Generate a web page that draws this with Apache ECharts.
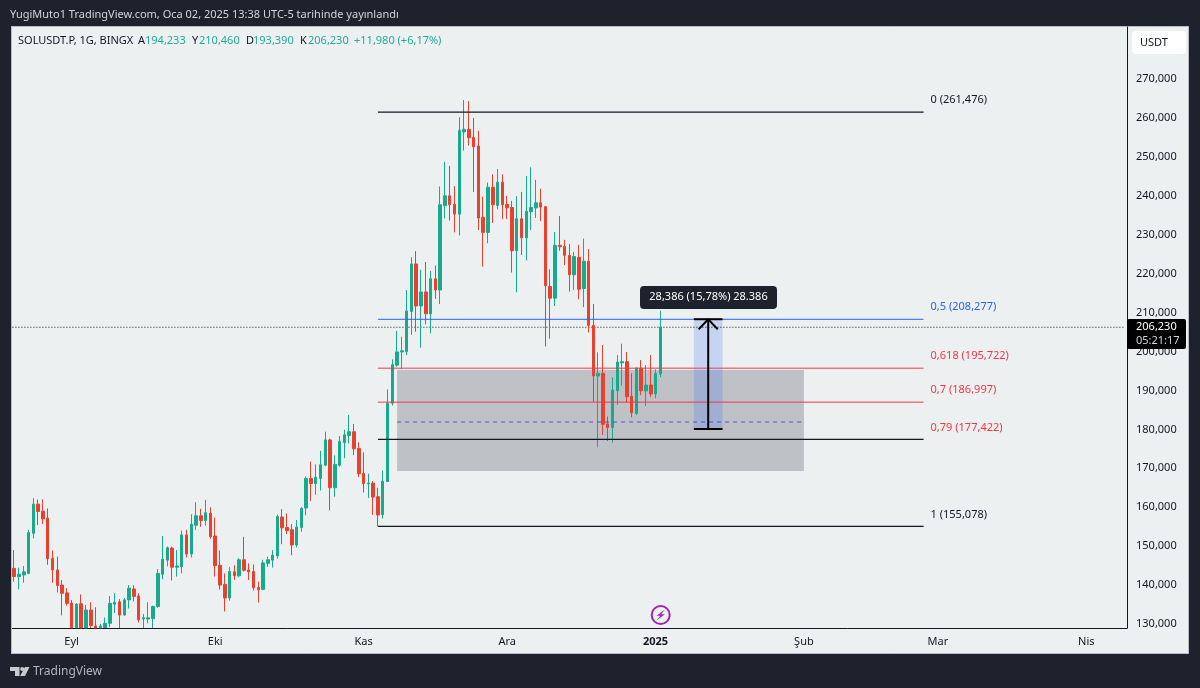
<!DOCTYPE html>
<html>
<head>
<meta charset="utf-8">
<style>
  html, body { margin: 0; padding: 0; background: #1e222d; }
  #container { width: 1200px; height: 688px; }
</style>
</head>
<body>
<div id="container"></div>
<script src="https://cdn.jsdelivr.net/npm/echarts@6/dist/echarts.min.js"></script>
<script>
// prices in thousands, one entry per day starting 2024-08-19
// anything running off the bottom of the pane is held at 129
const opens = [
  142.2, 144.3, 142.2, 142.6, 143.0, 153.3, 160.8, 159.0, 157.2, 146.9, 143.9, 140.0, 138.0,
  135.4, 129.0, 135.2, 129.0, 133.6, 129.5, 129.0, 129.1, 130.2, 135.1, 135.7, 132.3, 136.2, 139.0,
  137.2, 131.3, 131.3, 131.4, 134.5, 142.8, 146.4, 149.5, 144.6, 144.7, 152.9, 148.0, 155.4,
  157.8, 156.6, 158.5, 152.6, 145.1, 140.2, 136.7, 143.4, 142.4, 146.5, 143.9, 143.5, 139.4,
  138.9, 145.6, 146.4, 147.5, 157.5, 154.8, 154.2, 150.3, 154.8, 159.8, 167.4, 166.1, 167.4,
  170.8, 177.3, 165.0, 170.8, 176.6, 178.4, 179.4, 175.1, 168.7, 166.0, 166.2, 162.7, 158.1,
  166.6, 186.7, 196.5, 199.9, 200.0, 210.3, 222.5, 211.7, 215.3, 209.7, 218.7, 215.8, 237.5,
  240.0, 237.8, 235.3, 256.4, 257.1, 255.0, 252.8, 234.5, 230.6, 242.2, 237.5, 243.5, 237.8,
  237.0, 225.9, 234.1, 229.2, 235.9, 236.9, 238.2, 237.2, 216.7, 213.7, 227.3, 227.0, 224.7,
  219.7, 224.2, 216.2, 223.2, 206.7, 193.7, 194.4, 181.4, 180.5, 189.9, 197.1, 197.4, 188.5,
  184.1, 195.7, 189.9, 191.4, 189.1, 194.233
];
const closes = [
  144.3, 142.2, 142.8, 143.4, 153.5, 160.8, 158.9, 157.0, 146.8, 143.9, 139.9, 137.9, 135.3,
  129.0, 135.1, 129.0, 133.6, 129.6, 129.0, 129.5, 130.2, 135.3, 135.6, 132.3, 136.2, 139.2, 137.1,
  131.1, 131.6, 131.6, 134.5, 143.0, 146.6, 149.6, 144.6, 144.9, 152.9, 148.0, 155.6, 157.8,
  156.6, 158.6, 152.4, 145.0, 140.0, 136.7, 143.5, 142.4, 146.5, 143.8, 143.4, 139.3, 138.8,
  145.7, 146.5, 147.7, 157.6, 154.7, 154.0, 150.3, 154.9, 159.7, 167.4, 166.1, 167.7, 170.9,
  177.3, 165.0, 171.0, 176.9, 178.6, 179.4, 175.0, 168.6, 166.1, 166.2, 162.6, 158.0, 166.7,
  186.7, 196.6, 199.9, 200.2, 210.4, 222.5, 211.7, 215.3, 209.7, 218.7, 215.8, 237.7, 240.0,
  237.7, 235.3, 256.8, 257.1, 254.9, 252.6, 234.3, 230.6, 242.2, 237.7, 243.5, 237.7, 236.9,
  225.9, 234.1, 229.2, 236.0, 237.0, 238.2, 237.1, 216.9, 213.7, 227.3, 226.9, 224.7, 219.7,
  224.4, 216.0, 223.2, 206.7, 193.7, 194.4, 181.3, 180.5, 190.1, 197.3, 197.4, 188.4, 184.3,
  195.7, 189.9, 191.4, 189.1, 194.4, 206.230
];
const lows = [
  140.5, 140.9, 138.9, 140.6, 142.8, 152.0, 155.4, 155.7, 145.2, 140.6, 138.1, 132.2, 134.7,
  129.0, 129.0, 129.0, 129.0, 129.0, 129.0, 129.0, 129.0, 129.2, 132.8, 129.0, 132.2, 134.0, 135.8,
  130.4, 129.0, 130.2, 129.0, 134.2, 141.5, 144.8, 141.2, 142.2, 143.0, 147.1, 147.1, 154.2,
  155.0, 155.3, 151.9, 142.2, 138.8, 133.2, 136.0, 141.3, 142.0, 143.5, 141.3, 138.6, 135.5,
  138.7, 144.7, 144.5, 146.8, 150.5, 153.1, 147.7, 149.7, 153.7, 157.9, 161.6, 163.2, 164.3,
  170.6, 159.2, 162.7, 170.4, 172.6, 176.4, 173.4, 167.7, 163.8, 162.4, 158.0, 155.078, 157.1,
  166.5, 186.1, 196.1, 195.5, 199.1, 204.3, 205.1, 201.0, 207.0, 204.7, 213.5, 212.2, 234.2,
  233.6, 230.6, 229.8, 251.6, 252.9, 241.0, 231.2, 221.8, 227.8, 233.0, 236.5, 234.0, 234.0,
  220.3, 215.2, 224.8, 223.4, 231.2, 234.3, 233.5, 201.3, 203.3, 211.7, 225.9, 222.2, 215.4,
  215.8, 213.4, 211.4, 204.9, 187.1, 175.4, 178.6, 177.0, 176.6, 186.3, 191.2, 186.9, 183.1,
  183.7, 188.8, 186.0, 188.3, 188.0, 193.390
];
const highs = [
  146.3, 149.0, 144.5, 144.9, 154.2, 162.3, 162.0, 162.0, 159.7, 148.9, 147.3, 141.3, 139.2,
  136.2, 135.4, 137.6, 134.9, 135.6, 134.3, 130.0, 131.7, 137.2, 137.9, 136.4, 136.7, 140.0, 140.0,
  137.9, 132.6, 135.6, 134.7, 144.1, 152.6, 149.9, 149.9, 149.0, 154.0, 154.2, 158.2, 161.3,
  159.6, 161.9, 160.0, 157.4, 148.9, 143.0, 144.6, 145.1, 146.9, 152.4, 145.6, 145.3, 140.9,
  146.5, 147.3, 149.0, 158.1, 159.5, 158.4, 155.7, 156.7, 160.0, 167.9, 171.7, 171.0, 174.5,
  179.4, 177.6, 173.3, 178.3, 179.9, 183.7, 181.4, 176.7, 174.1, 168.6, 166.7, 165.0, 169.4,
  190.3, 198.0, 205.3, 203.8, 215.8, 224.2, 225.8, 221.0, 223.0, 220.7, 222.1, 242.4, 248.7,
  247.7, 242.5, 260.2, 264.6, 264.3, 260.0, 256.7, 239.8, 243.4, 245.5, 246.9, 245.5, 240.0,
  238.7, 239.9, 241.0, 245.1, 247.3, 244.1, 241.8, 237.4, 221.1, 230.7, 234.8, 228.7, 227.6,
  225.6, 227.4, 229.0, 226.3, 212.2, 199.8, 201.7, 183.3, 193.4, 199.1, 202.0, 199.9, 194.4,
  195.9, 197.8, 196.5, 199.1, 195.4, 210.460
];

const monthIndexes = [13, 43, 74, 104, 135, 166, 194, 225];
const monthLabels = ['Eyl', 'Eki', 'Kas', 'Ara', '2025', 'Şub', 'Mar', 'Nis'];
const priceTicks = [130, 140, 150, 160, 170, 180, 190, 200, 210, 220, 230, 240, 250, 260, 270];

// fib levels, drawn from fibStart to fibEnd
const fibValues = [261.476, 208.277, 195.722, 186.997, 177.422, 155.078];
const fibNames = ['0', '0,5', '0,618', '0,7', '0,79', '1'];
const fibLineColors = ['#131722', '#2962ff', '#f23645', '#f23645', '#131722', '#131722'];
const fibTextColors = ['#131722', '#2962ff', '#f23645', '#f23645', '#f23645', '#131722'];
const fibStart = 77;
const fibEnd = 191;

const lastPrice = 206.23;
const zoneRange = [169.3, 195.25];
const zoneMid = 181.9;
const zoneIdx = [81, 166];
const measureRange = [180.1, 208.3];
const measureIdx = [143, 146, 149];
const arrowWing = 205.7;

const dayCount = 234;
const categories = [];
for (let d = 0; d < dayCount; d++) {
  categories.push(new Date(Date.UTC(2024, 7, 19 + d)).toISOString().slice(0, 10));
}

const candles = opens.map((o, i) => [o, closes[i], lows[i], highs[i]]);
const money = (v) => v.toFixed(3).replace('.', ',');

const font = '"Noto Sans", sans-serif';
const fontSize = 11;
const textColor = '#131722';
const green = '#15ab8c';
const red = '#e8412f';

function plainLine(data, color, width, type, z) {
  return {
    type: 'line',
    data: data,
    symbol: 'none',
    silent: true,
    animation: false,
    z: z,
    lineStyle: { color: color, width: width, type: type || 'solid' }
  };
}

const series = [
  {
    type: 'candlestick',
    data: candles,
    barWidth: 3,
    z: 3,
    itemStyle: { color: green, color0: red, borderColor: green, borderColor0: red, borderWidth: 1 },
    markArea: {
      silent: true,
      z: 1,
      data: [
        [
          { xAxis: zoneIdx[0], yAxis: zoneRange[1], itemStyle: { color: 'rgba(120,123,134,0.4)' } },
          { xAxis: zoneIdx[1], yAxis: zoneRange[0] }
        ],
        [
          { xAxis: measureIdx[0], yAxis: measureRange[1], itemStyle: { color: 'rgba(41,98,255,0.2)' } },
          { xAxis: measureIdx[2], yAxis: measureRange[0] }
        ]
      ]
    }
  },
  plainLine([[0, lastPrice], [dayCount - 1, lastPrice]], '#131722', 1.2, [1, 2], 2),
  plainLine([[zoneIdx[0], zoneMid], [zoneIdx[1], zoneMid]], '#5b4fd6', 1, [4, 4], 4)
];

fibValues.forEach((v, i) => {
  const s = plainLine([[fibStart, v], [fibEnd, v]], fibLineColors[i], fibLineColors[i] === '#131722' ? 1.2 : 1, 'solid', 4);
  s.endLabel = {
    show: true,
    formatter: fibNames[i] + ' (' + money(v) + ')',
    color: fibTextColors[i],
    fontFamily: font,
    fontSize: fontSize,
    distance: 7,
    offset: [0, -12]
  };
  series.push(s);
});

// measure tool: shaft, caps and arrow head
series.push(plainLine([[measureIdx[1], measureRange[0]], [measureIdx[1], measureRange[1]]], '#000', 2, 'solid', 5));
series.push(plainLine([[measureIdx[0], measureRange[0]], [measureIdx[2], measureRange[0]]], '#000', 2, 'solid', 5));
series.push(plainLine([[measureIdx[0], measureRange[1]], [measureIdx[2], measureRange[1]]], '#000', 2, 'solid', 5));
series.push(plainLine([
  [measureIdx[1] - 2, arrowWing], [measureIdx[1], measureRange[1]], [measureIdx[1] + 2, arrowWing]
], '#000', 2, 'solid', 5));

const headerBits = [
  ['SOLUSDT.P, 1G, BINGX', 18, textColor], ['A', 138, textColor], ['194,233', 145, '#22ab94'],
  ['Y', 192, textColor], ['210,460', 199, '#22ab94'], ['D', 246, textColor], ['193,390', 253, '#22ab94'],
  ['K', 300, textColor], ['206,230', 308, '#22ab94'], ['+11,980 (+6,17%)', 354, '#22ab94']
];

function label(text, x, y, color, size, extra) {
  return {
    type: 'text', x: x, y: y, z: 110, silent: true,
    style: Object.assign({ text: text, fill: color, fontFamily: font, fontSize: size || fontSize, verticalAlign: 'middle' }, extra || {})
  };
}

const graphics = [
  { type: 'rect', z: -1, silent: true, shape: { x: 11.5, y: 26.5, width: 1177, height: 627 },
    style: { fill: '#edf0f0', stroke: '#b8bcc4', lineWidth: 1 } },
  { type: 'rect', z: 100, silent: true, shape: { x: 0, y: 26, width: 11, height: 630 }, style: { fill: '#1e222d' } },
  { type: 'line', z: 100, silent: true, shape: { x1: 11.5, y1: 26, x2: 11.5, y2: 654 }, style: { stroke: '#b8bcc4', lineWidth: 1 } },
  label('YugiMuto1 TradingView.com, Oca 02, 2025 13:38 UTC-5 tarihinde yayınlandı', 10, 15, '#d1d4dc', 11),
  { type: 'rect', z: 110, silent: true, shape: { x: 1132, y: 31, width: 54, height: 23, r: 4 }, style: { fill: '#fff' } },
  label('USDT', 1140, 42.5, textColor),
  { type: 'rect', z: 110, silent: true, shape: { x: 1127, y: 319, width: 59, height: 30, r: 2 }, style: { fill: '#000' } },
  label('206,230', 1136, 327, '#fff'),
  label('05:21:17', 1136, 341, '#d1d4dc'),
  { type: 'rect', z: 110, silent: true, shape: { x: 640, y: 286, width: 137, height: 23, r: 4 }, style: { fill: '#1e222d' } },
  label('28,386 (15,78%) 28.386', 708.5, 297, '#fff', 11, { align: 'center' }),
  { type: 'circle', z: 110, silent: true, shape: { cx: 660.7, cy: 615, r: 9 }, style: { fill: 'none', stroke: '#9c27b0', lineWidth: 2 } },
  { type: 'polygon', z: 110, silent: true,
    shape: { points: [[665, 609.5], [656.5, 615.8], [660.3, 615.8], [656.4, 620.5], [665, 614.2], [661.2, 614.2]] },
    style: { fill: '#9c27b0' } },
  { type: 'polygon', z: 110, silent: true, shape: { points: [[10, 667], [19.5, 667], [19.5, 676], [15, 676], [15, 671], [10, 671]] }, style: { fill: '#c8cad0' } },
  { type: 'circle', z: 110, silent: true, shape: { cx: 22.2, cy: 669, r: 2 }, style: { fill: '#c8cad0' } },
  { type: 'polygon', z: 110, silent: true, shape: { points: [[25, 667], [29.5, 667], [25, 676], [20, 676]] }, style: { fill: '#c8cad0' } },
  label('TradingView', 33, 672, '#b2b5be', 12)
];
headerBits.forEach((b) => graphics.push(label(b[0], b[1], 41, b[2])));

var dom = document.getElementById('container');
var myChart = echarts.init(dom, null, { renderer: 'canvas' });

var option = {
  animation: false,
  backgroundColor: '#1e222d',
  textStyle: { fontFamily: font },
  graphic: graphics,
  grid: { left: 7, right: 73, top: 27, bottom: 60, containLabel: false },
  xAxis: {
    type: 'category',
    data: categories,
    boundaryGap: true,
    axisLine: { show: true, onZero: false, lineStyle: { color: '#131722', width: 1 } },
    axisTick: { show: false },
    splitLine: { show: false },
    axisLabel: {
      margin: 8,
      fontFamily: font,
      fontSize: fontSize,
      color: textColor,
      hideOverlap: false,
      interval: (idx) => monthIndexes.includes(idx),
      formatter: (val, idx) => {
        const m = monthIndexes.indexOf(idx);
        if (m < 0) return '';
        return monthLabels[m] === '2025' ? '{b|2025}' : monthLabels[m];
      },
      rich: { b: { fontFamily: font, fontSize: fontSize, fontWeight: 'bold', color: textColor } }
    }
  },
  yAxis: {
    type: 'value',
    position: 'right',
    scale: true,
    min: 128.98,
    max: 283.36,
    axisLine: { show: true, lineStyle: { color: '#131722', width: 1 } },
    axisTick: { show: false },
    splitLine: { show: false },
    axisLabel: {
      customValues: priceTicks,
      margin: 9,
      fontFamily: font,
      fontSize: fontSize,
      color: textColor,
      formatter: (v) => money(v)
    }
  },
  series: series
};

myChart.setOption(option);
window.addEventListener('resize', myChart.resize);
</script>
</body>
</html>
